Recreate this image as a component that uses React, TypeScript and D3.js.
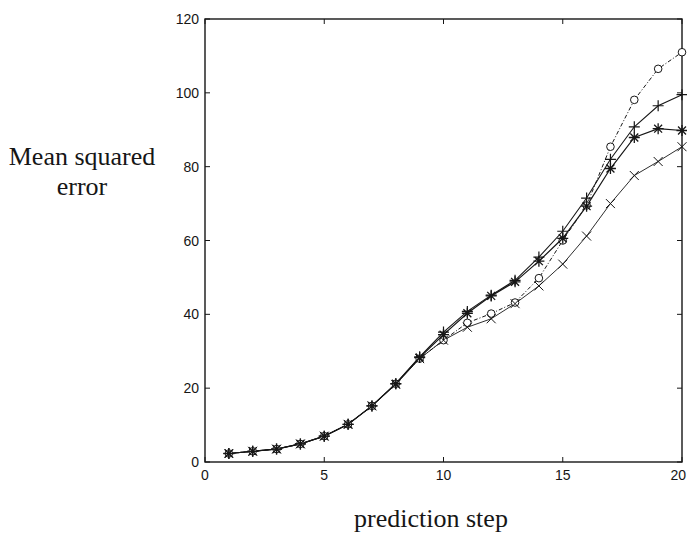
import React from "react";
import * as d3 from "d3";

const STEPS = [1, 2, 3, 4, 5, 6, 7, 8, 9, 10, 11, 12, 13, 14, 15, 16, 17, 18, 19, 20];

const CIRCLE_VALUES = [2.3, 2.9, 3.5, 4.9, 7.0, 10.2, 15.2, 21.2, 28.0, 33.0, 37.7, 40.2, 43.2, 49.8, 60.0, 69.5, 85.4, 98.1, 106.5, 111.0];
const PLUS_VALUES = [2.3, 2.9, 3.5, 4.9, 7.0, 10.2, 15.2, 21.2, 28.5, 35.2, 40.8, 45.2, 49.2, 55.5, 62.5, 71.5, 82.0, 90.8, 96.5, 99.5];
const STAR_VALUES = [2.3, 2.9, 3.5, 4.9, 7.0, 10.2, 15.2, 21.2, 28.3, 34.5, 40.3, 45.0, 48.8, 54.4, 60.6, 69.3, 79.5, 87.9, 90.3, 89.8];
const CROSS_VALUES = [2.3, 2.9, 3.5, 4.9, 7.0, 10.2, 15.2, 21.0, 28.0, 33.0, 36.5, 38.8, 42.9, 47.7, 53.6, 61.2, 70.0, 77.6, 81.4, 85.4];

const X_TICKS = [0, 5, 10, 15, 20];
const Y_TICKS = [0, 20, 40, 60, 80, 100, 120];

const WIDTH = 687;
const HEIGHT = 538;
const PLOT = { left: 205, right: 682, top: 19, bottom: 462 };
const INK = "#161616";
const SANS = "'Liberation Sans', Arial, sans-serif";
const SERIF = "'Liberation Serif', 'Times New Roman', serif";

const SERIES = [
  { key: "circle", values: CIRCLE_VALUES, dash: "4,2,1,2", width: 1 },
  { key: "plus", values: PLUS_VALUES, dash: null, width: 1.1 },
  { key: "star", values: STAR_VALUES, dash: null, width: 1.2 },
  { key: "cross", values: CROSS_VALUES, dash: null, width: 0.9 },
];

function Marker({ kind, x, y }: { kind: string; x: number; y: number }) {
  const common = { stroke: INK, strokeWidth: 1, fill: "none" };
  if (kind === "circle") return <circle cx={x} cy={y} r={3.8} {...common} fill="white" />;
  const s = kind === "cross" ? 4.5 : 5.5;
  const plus = `M${x - s},${y}H${x + s}M${x},${y - s}V${y + s}`;
  const d = s * 0.72;
  const cross = `M${x - d},${y - d}L${x + d},${y + d}M${x - d},${y + d}L${x + d},${y - d}`;
  if (kind === "plus") return <path d={plus} {...common} strokeWidth={1.2} />;
  if (kind === "cross")
    return <path d={`M${x - s},${y - s}L${x + s},${y + s}M${x - s},${y + s}L${x + s},${y - s}`} {...common} />;
  return <path d={plus + cross} {...common} strokeWidth={1.3} />;
}

export default function App() {
  const x = d3.scaleLinear().domain([0, 20]).range([PLOT.left, PLOT.right]);
  const y = d3.scaleLinear().domain([0, 120]).range([PLOT.bottom, PLOT.top]);

  const line = d3
    .line<number>()
    .x((_, i) => x(STEPS[i]))
    .y((d) => y(d));

  return (
    <svg
      width={WIDTH}
      height={HEIGHT}
      style={{ position: "absolute", left: 0, top: 0, background: "white" }}
    >
      {/* frame */}
      <rect
        x={PLOT.left}
        y={PLOT.top}
        width={PLOT.right - PLOT.left}
        height={PLOT.bottom - PLOT.top}
        fill="none"
        stroke={INK}
        strokeWidth={1.4}
      />

      {/* x ticks, bottom and top, pointing inward */}
      {X_TICKS.map((t, i) => (
        <g key={"x" + t}>
          <line x1={x(t)} x2={x(t)} y1={PLOT.bottom} y2={PLOT.bottom - 5} stroke={INK} />
          <line x1={x(t)} x2={x(t)} y1={PLOT.top} y2={PLOT.top + 5} stroke={INK} />
          <text
            x={i === X_TICKS.length - 1 ? WIDTH - 1 : x(t)}
            y={PLOT.bottom + 18}
            textAnchor={i === X_TICKS.length - 1 ? "end" : "middle"}
            fontFamily={SANS}
            fontSize={14}
            fill={INK}
          >
            {t}
          </text>
        </g>
      ))}

      {/* y ticks, left and right */}
      {Y_TICKS.map((t) => (
        <g key={"y" + t}>
          <line x1={PLOT.left} x2={PLOT.left + 5} y1={y(t)} y2={y(t)} stroke={INK} />
          <line x1={PLOT.right} x2={PLOT.right - 5} y1={y(t)} y2={y(t)} stroke={INK} />
          <text
            x={PLOT.left - 6}
            y={y(t) + 5}
            textAnchor="end"
            fontFamily={SANS}
            fontSize={14}
            fill={INK}
          >
            {t}
          </text>
        </g>
      ))}

      {/* series lines */}
      {SERIES.map((s) => (
        <path
          key={s.key}
          d={line(s.values) || ""}
          fill="none"
          stroke={INK}
          strokeWidth={s.width}
          strokeDasharray={s.dash || undefined}
        />
      ))}

      {/* markers */}
      {SERIES.map((s) =>
        s.values.map((v, i) => (
          <Marker key={s.key + i} kind={s.key} x={x(STEPS[i])} y={y(v)} />
        )),
      )}

      {/* axis labels */}
      <text x={82} y={165} textAnchor="middle" fontFamily={SERIF} fontSize={26} fill={INK}>
        Mean squared
      </text>
      <text x={82} y={195} textAnchor="middle" fontFamily={SERIF} fontSize={26} fill={INK}>
        error
      </text>
      <text x={431} y={527} textAnchor="middle" fontFamily={SERIF} fontSize={26} fill={INK}>
        prediction step
      </text>
    </svg>
  );
}
